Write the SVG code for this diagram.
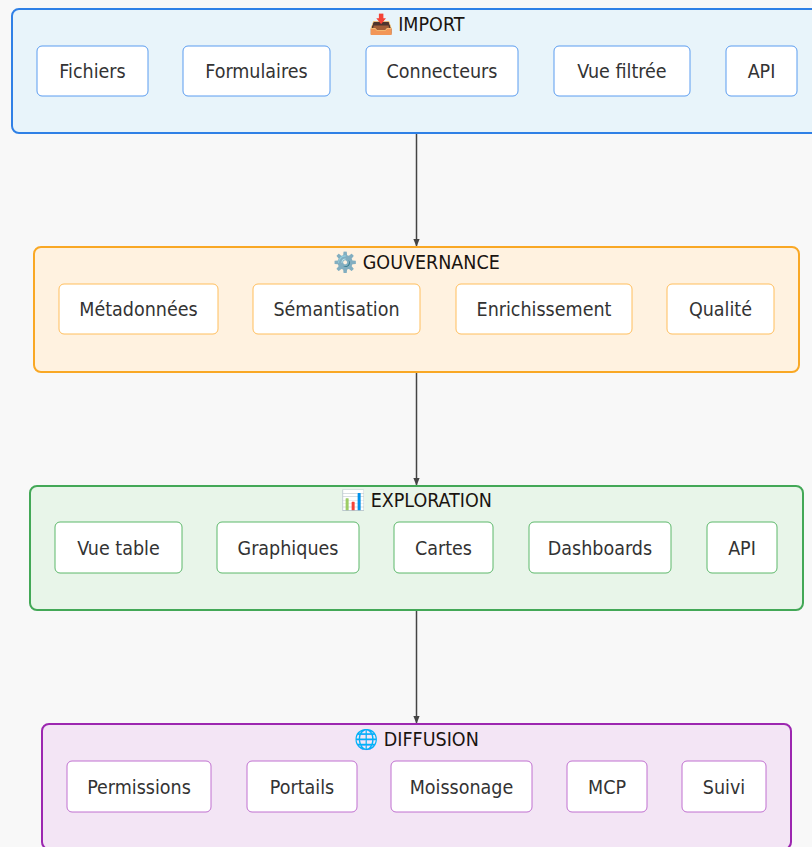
<svg xmlns="http://www.w3.org/2000/svg" width="812" height="847" viewBox="0 0 812 847">
<defs>
<marker id="arr" viewBox="0 0 10 10" refX="9" refY="5" markerWidth="8" markerHeight="8" markerUnits="userSpaceOnUse" orient="auto">
<path d="M0,1 L10,5 L0,9 z" fill="#444"/>
</marker>
<style>
.t{font-family:"DejaVu Sans Condensed","DejaVu Sans",sans-serif;font-stretch:condensed;font-size:19.5px;fill:#333;text-anchor:middle}
.h{font-family:"DejaVu Sans Condensed","DejaVu Sans",sans-serif;font-stretch:condensed;font-size:19.5px;fill:#1a1410;text-anchor:middle}
.n{fill:#fff;stroke-width:1}
.g{stroke-width:2}
.edge{stroke:#444;stroke-width:1.5;fill:none}
</style>
</defs>
<rect width="812" height="847" fill="#f8f8f8"/>

<g id="edges">
<line class="edge" x1="416.5" y1="134" x2="416.5" y2="246" marker-end="url(#arr)"/>
<line class="edge" x1="416.5" y1="373" x2="416.5" y2="485" marker-end="url(#arr)"/>
<line class="edge" x1="416.5" y1="611" x2="416.5" y2="723" marker-end="url(#arr)"/>
</g>

<g id="import">
<rect class="g" x="12" y="9" width="809" height="124" rx="7" fill="#e8f4fa" stroke="#2f80e6"/>
<text class="h" x="416.5" y="31">📥 IMPORT</text>
<g id="fichiers"><rect class="n" x="37" y="46" width="111" height="50" rx="5" stroke="#5a9cf0"/><text class="t" x="92.5" y="78">Fichiers</text></g>
<g id="formulaires"><rect class="n" x="183" y="46" width="147" height="50" rx="5" stroke="#5a9cf0"/><text class="t" x="256.5" y="78">Formulaires</text></g>
<g id="connecteurs"><rect class="n" x="366" y="46" width="152" height="50" rx="5" stroke="#5a9cf0"/><text class="t" x="442" y="78">Connecteurs</text></g>
<g id="vuefiltree"><rect class="n" x="554" y="46" width="136" height="50" rx="5" stroke="#5a9cf0"/><text class="t" x="622" y="78">Vue filtrée</text></g>
<g id="api1"><rect class="n" x="726" y="46" width="71" height="50" rx="5" stroke="#5a9cf0"/><text class="t" x="761.5" y="78">API</text></g>
</g>

<g id="gouvernance">
<rect class="g" x="34" y="247" width="765" height="125" rx="7" fill="#fff2e0" stroke="#f9a825"/>
<text class="h" x="416.5" y="269">⚙️ GOUVERNANCE</text>
<g id="metadonnees"><rect class="n" x="59" y="284" width="159" height="50" rx="5" stroke="#ffbe5c"/><text class="t" x="138.5" y="316">Métadonnées</text></g>
<g id="semantisation"><rect class="n" x="253" y="284" width="167" height="50" rx="5" stroke="#ffbe5c"/><text class="t" x="336.5" y="316">Sémantisation</text></g>
<g id="enrichissement"><rect class="n" x="456" y="284" width="176" height="50" rx="5" stroke="#ffbe5c"/><text class="t" x="544" y="316">Enrichissement</text></g>
<g id="qualite"><rect class="n" x="667" y="284" width="107" height="50" rx="5" stroke="#ffbe5c"/><text class="t" x="720.5" y="316">Qualité</text></g>
</g>

<g id="exploration">
<rect class="g" x="30" y="486" width="773" height="124" rx="7" fill="#e8f5e9" stroke="#43a857"/>
<text class="h" x="416.5" y="507">📊 EXPLORATION</text>
<g id="vuetable"><rect class="n" x="55" y="522" width="127" height="51" rx="5" stroke="#5cb86a"/><text class="t" x="118.5" y="555">Vue table</text></g>
<g id="graphiques"><rect class="n" x="217" y="522" width="142" height="51" rx="5" stroke="#5cb86a"/><text class="t" x="288" y="555">Graphiques</text></g>
<g id="cartes"><rect class="n" x="394" y="522" width="99" height="51" rx="5" stroke="#5cb86a"/><text class="t" x="443.5" y="555">Cartes</text></g>
<g id="dashboards"><rect class="n" x="529" y="522" width="142" height="51" rx="5" stroke="#5cb86a"/><text class="t" x="600" y="555">Dashboards</text></g>
<g id="api2"><rect class="n" x="707" y="522" width="70" height="51" rx="5" stroke="#5cb86a"/><text class="t" x="742" y="555">API</text></g>
</g>

<g id="diffusion">
<rect class="g" x="42" y="724" width="749" height="125" rx="7" fill="#f3e5f5" stroke="#9c27b0"/>
<text class="h" x="416.5" y="746">🌐 DIFFUSION</text>
<g id="permissions"><rect class="n" x="67" y="761" width="144" height="51" rx="5" stroke="#c070d0"/><text class="t" x="139" y="794">Permissions</text></g>
<g id="portails"><rect class="n" x="247" y="761" width="110" height="51" rx="5" stroke="#c070d0"/><text class="t" x="302" y="794">Portails</text></g>
<g id="moissonage"><rect class="n" x="391" y="761" width="141" height="51" rx="5" stroke="#c070d0"/><text class="t" x="461.5" y="794">Moissonage</text></g>
<g id="mcp"><rect class="n" x="567" y="761" width="80" height="51" rx="5" stroke="#c070d0"/><text class="t" x="607" y="794">MCP</text></g>
<g id="suivi"><rect class="n" x="682" y="761" width="84" height="51" rx="5" stroke="#c070d0"/><text class="t" x="724" y="794">Suivi</text></g>
</g>
</svg>
